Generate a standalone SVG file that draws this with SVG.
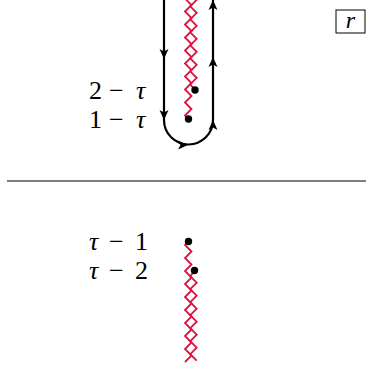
<svg xmlns="http://www.w3.org/2000/svg" width="366" height="374" viewBox="0 0 366 374">
<style>
.lbl{font-family:"Liberation Serif","Times New Roman",serif;font-size:26px;fill:#000}
.it{font-style:italic}
.cut{fill:none;stroke:#DC143C;stroke-width:1.8;stroke-linejoin:miter}
.contour{fill:none;stroke:#000;stroke-width:2.2}
.dot{fill:#000}
</style>
<defs>
<path id="ah" d="M1,0 L-9,-4.5 L-6.5,0 L-9,4.5 Z" fill="#000"/>
</defs>
<rect width="366" height="374" fill="#fff"/>
<g id="separator">
<line x1="7" y1="181" x2="366" y2="181" stroke="#555" stroke-width="1.6"/>
</g>
<g id="legend-r">
<rect x="336" y="10" width="29" height="23" fill="none" stroke="#000" stroke-width="1"/>
<text class="lbl it" x="350.5" y="28" text-anchor="middle" style="font-size:24px">r</text>
</g>
<g id="connectors">
<path class="contour" d="M164,0 L164,120 A24.5,24.5 0 0 0 213,120 L213,0"/>
<use href="#ah" transform="translate(164,58) rotate(90)"/>
<use href="#ah" transform="translate(164,119) rotate(90)"/>
<use href="#ah" transform="translate(187,145)"/>
<use href="#ah" transform="translate(213,121) rotate(-90)"/>
<use href="#ah" transform="translate(213,58) rotate(-90)"/>
<use href="#ah" transform="translate(213,1) rotate(-90)"/>
</g>
<g id="cuts-top">
<polyline class="cut" points="188.5,119 185,115.5 191.5,109 185,102.5 191.5,96 185,89.5 191.5,83 185,76.5 191.5,70 185,63.5 191.5,57 185,50.5 191.5,44 185,37.5 191.5,31 185,24.5 191.5,18 185,11.5 191.5,5 185,-1.5 191.5,-8"/>
<polyline class="cut" points="195,90 190.2,84.3 196.7,77.8 190.2,71.3 196.7,64.8 190.2,58.3 196.7,51.8 190.2,45.3 196.7,38.8 190.2,32.3 196.7,25.8 190.2,19.3 196.7,12.8 190.2,6.3 196.7,-0.2 190.2,-6.7"/>
</g>
<g id="cuts-bottom">
<polyline class="cut" points="188.5,241.5 185,245 191.5,251.5 185,258 191.5,264.5 185,271 191.5,277.5 185,284 191.5,290.5 185,297 191.5,303.5 185,310 191.5,316.5 185,323 191.5,329.5 185,336 191.5,342.5 185,349 191.5,355.5 185,362"/>
<polyline class="cut" points="195,270.5 190.2,276.2 196.7,282.7 190.2,289.2 196.7,295.7 190.2,302.2 196.7,308.7 190.2,315.2 196.7,321.7 190.2,328.2 196.7,334.7 190.2,341.2 196.7,347.7 190.2,354.2 196.7,360.7"/>
</g>
<g id="node-2-tau">
<circle class="dot" cx="195" cy="90" r="3.7"/>
<text class="lbl" y="99"><tspan x="89">2</tspan><tspan x="109">−</tspan><tspan x="136" class="it">τ</tspan></text>
</g>
<g id="node-1-tau">
<circle class="dot" cx="188.5" cy="119" r="3.7"/>
<text class="lbl" y="128"><tspan x="89">1</tspan><tspan x="109">−</tspan><tspan x="136" class="it">τ</tspan></text>
</g>
<g id="node-tau-1">
<circle class="dot" cx="188.5" cy="241.5" r="3.7"/>
<text class="lbl" y="250"><tspan x="89" class="it">τ</tspan><tspan x="109">−</tspan><tspan x="135">1</tspan></text>
</g>
<g id="node-tau-2">
<circle class="dot" cx="194.5" cy="270.5" r="3.7"/>
<text class="lbl" y="279"><tspan x="89" class="it">τ</tspan><tspan x="109">−</tspan><tspan x="135">2</tspan></text>
</g>
</svg>
